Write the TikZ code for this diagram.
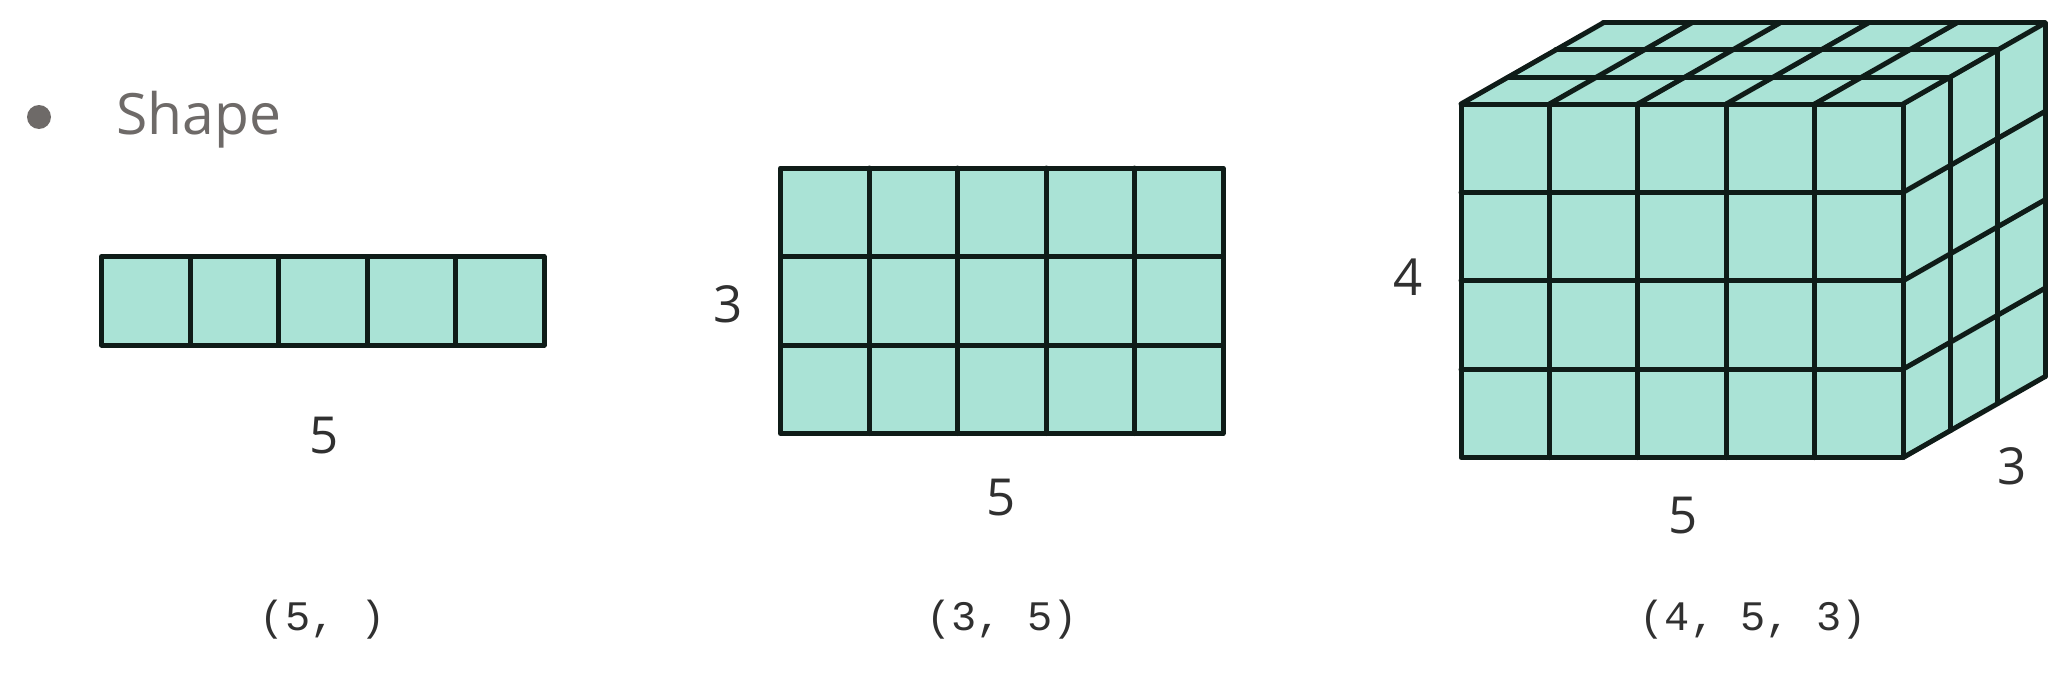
\documentclass[tikz,border=0pt]{standalone}
\usepackage{fontspec}
\setmainfont{Open Sans}
\newfontfamily\codefont{Liberation Mono}
\definecolor{cellfill}{HTML}{AAE3D6}
\definecolor{gridline}{HTML}{0F1C18}
\definecolor{labelgray}{HTML}{303030}
\definecolor{titlegray}{HTML}{6E6A68}
\tikzset{
  gridlines/.style={draw=gridline,line width=5pt,line cap=round,line join=round},
  dimlabel/.style={text=labelgray,inner sep=0pt,font=\fontsize{51}{60}\selectfont},
  codelabel/.style={text=labelgray,inner sep=0pt,anchor=base,font=\codefont\fontsize{42}{50}\selectfont},
}
\begin{document}
\begin{tikzpicture}[x=1pt,y=-1pt]
\useasboundingbox (0,0) rectangle (2066,677);
\def\cs{88.5}
% title
\fill[titlegray] (39,117) circle (12);
\node[anchor=base west,inner sep=0pt,text=titlegray,font=\fontsize{57}{66}\selectfont] (title) at (116,134) {Shape};

% ---- 1D bar ----
\def\bx{101.5}\def\by{256.5}
\fill[cellfill] (\bx,\by) rectangle ({\bx+5*\cs},{\by+\cs});
\foreach \i in {1,...,4}
  \draw[gridlines] ({\bx+\i*\cs},\by) -- ({\bx+\i*\cs},{\by+\cs});
\draw[gridlines] (\bx,\by) rectangle ({\bx+5*\cs},{\by+\cs});
\node[dimlabel] (barlen) at (324,436) {5};
\node[codelabel] (barshape) at (323,630) {(5, )};

% ---- 2D grid ----
\def\gx{780.5}\def\gy{168}
\fill[cellfill] (\gx,\gy) rectangle ({\gx+5*\cs},{\gy+3*\cs});
\foreach \i in {1,...,4}
  \draw[gridlines] ({\gx+\i*\cs},\gy) -- ({\gx+\i*\cs},{\gy+3*\cs});
\foreach \j in {1,2}
  \draw[gridlines] (\gx,{\gy+\j*\cs}) -- ({\gx+5*\cs},{\gy+\j*\cs});
\draw[gridlines] (\gx,\gy) rectangle ({\gx+5*\cs},{\gy+3*\cs});
\node[dimlabel] (gridrows) at (728,304) {3};
\node[dimlabel] (gridcols) at (1001,498) {5};
\node[codelabel] (gridshape) at (1002,630) {(3, 5)};

% ---- 3D cube ----
\def\qc{88.4}
\def\qx{1461}\def\qy{104}
\def\qr{1903}\def\qb{457.6}
\def\qdx{47.33}\def\qdy{-27}
% faces
\fill[cellfill] (\qx,\qy) -- (\qr,\qy) -- ({\qr+3*\qdx},{\qy+3*\qdy}) -- ({\qx+3*\qdx},{\qy+3*\qdy}) -- cycle;
\fill[cellfill] (\qr,\qy) -- ({\qr+3*\qdx},{\qy+3*\qdy}) -- ({\qr+3*\qdx},{\qb+3*\qdy}) -- (\qr,\qb) -- cycle;
\fill[cellfill] (\qx,\qy) rectangle (\qr,\qb);
% top face lines
\foreach \k in {1,2,3}
  \draw[gridlines] ({\qx+\k*\qdx},{\qy+\k*\qdy}) -- ({\qr+\k*\qdx},{\qy+\k*\qdy});
\foreach \i in {0,...,5}
  \draw[gridlines] ({\qx+\i*\qc},\qy) -- ({\qx+\i*\qc+3*\qdx},{\qy+3*\qdy});
% right face lines
\foreach \k in {1,2,3}
  \draw[gridlines] ({\qr+\k*\qdx},{\qy+\k*\qdy}) -- ({\qr+\k*\qdx},{\qb+\k*\qdy});
\foreach \j in {1,...,4}
  \draw[gridlines] (\qr,{\qy+\j*\qc}) -- ({\qr+3*\qdx},{\qy+\j*\qc+3*\qdy});
% front face lines
\foreach \i in {1,...,4}
  \draw[gridlines] ({\qx+\i*\qc},\qy) -- ({\qx+\i*\qc},\qb);
\foreach \j in {1,2,3}
  \draw[gridlines] (\qx,{\qy+\j*\qc}) -- (\qr,{\qy+\j*\qc});
\draw[gridlines] (\qx,\qy) rectangle (\qr,\qb);
\node[dimlabel] (cuberows) at (1408,277) {4};
\node[dimlabel] (cubecols) at (1683,516) {5};
\node[dimlabel] (cubedepth) at (2012,466) {3};
\node[codelabel] (cubeshape) at (1753,630) {(4, 5, 3)};
\end{tikzpicture}
\end{document}
